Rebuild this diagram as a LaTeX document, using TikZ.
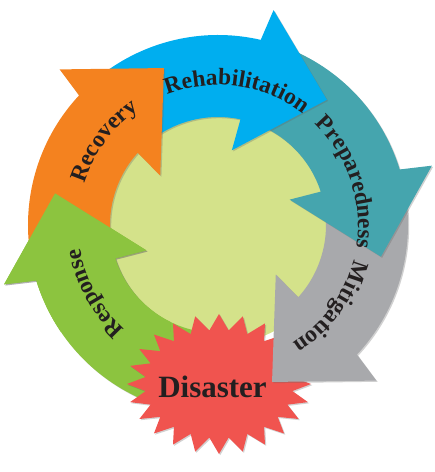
\documentclass[tikz,border=0pt]{standalone}
\usepackage{fontspec}
\setmainfont{Liberation Serif}
\usetikzlibrary{decorations.text,shadows}

\definecolor{response-green}{HTML}{8CC43F}
\definecolor{recovery-orange}{HTML}{F4821F}
\definecolor{rehab-blue}{HTML}{00AEEF}
\definecolor{prep-teal}{HTML}{45A5AE}
\definecolor{mitigation-gray}{HTML}{A8A9AC}
\definecolor{hub-green}{HTML}{D4E28A}
\definecolor{disaster-red}{HTML}{F0544F}
\definecolor{label-ink}{HTML}{231F20}

\newcommand{\phasefont}{\fontsize{23.5}{28}\selectfont\bfseries}

\tikzset{
    soft-shadow/.style = {drop shadow={shadow xshift=1.2pt, shadow yshift=-1.2pt, opacity=0.3, fill=black!60}},
    phase-label/.style = {decorate, decoration={text along path, text align=center, text={|\color{label-ink}\phasefont|#1}}},
    disaster-label/.style = {text=label-ink, font=\fontsize{31}{36}\selectfont\bfseries, inner sep=0pt},
    pics/phase-arrow/.style 2 args = {code={
        \fill[soft-shadow, fill=#2] (#1+60:190pt) arc[start angle=#1+60, end angle=#1, radius=190pt]
            -- (#1-1.5:222pt) -- (#1-28:166pt) -- (#1+2.5:76pt) -- (#1+1:108pt)
            arc[start angle=#1+1, end angle=#1+60, radius=108pt] -- cycle;
    }},
}

\begin{document}
\begin{tikzpicture}[x=1pt, y=1pt]
\useasboundingbox (0,0) rectangle (435,472);
\coordinate (hub) at (218,247);

% centre disc
\fill[hub-green] (hub) circle[radius=120pt];

% response arrow, its tail goes under the star
\pic at (hub) {phase-arrow={197}{response-green}};

% disaster star
\fill[soft-shadow, fill=disaster-red] plot[variable=\k, samples at={0,...,47}]
    ({219+(92-18*mod(\k,2))*cos(90+7.5*\k)}, {88+(70-16*mod(\k,2))*sin(90+7.5*\k)}) -- cycle;
\node[disaster-label] (disaster) at (212.5,85.5) {Disaster};

\foreach \base/\col in {-43/mitigation-gray, 17/prep-teal, 77/rehab-blue, 137/recovery-orange}
    \pic at (hub) {phase-arrow={\base}{\col}};

% response head again, on top of the recovery tail
\begin{scope}
\clip (0,140) rectangle (170,472);
\pic at (hub) {phase-arrow={197}{response-green}};
\end{scope}

% curved labels
\begin{scope}[shift={(hub)}]
\path[phase-label=Response] (254:140pt) arc[start angle=254, end angle=164, radius=140pt];
\path[phase-label=Recovery] (188.5:140pt) arc[start angle=188.5, end angle=98.5, radius=140pt];
\path[phase-label=Rehabilitation] (127:140pt) arc[start angle=127, end angle=37, radius=140pt];
\path[phase-label=Preparedness] (63.5:140pt) arc[start angle=63.5, end angle=-26.5, radius=140pt];
\path[phase-label=Mitigation] (9:140pt) arc[start angle=9, end angle=-81, radius=140pt];
\end{scope}
\end{tikzpicture}
\end{document}
